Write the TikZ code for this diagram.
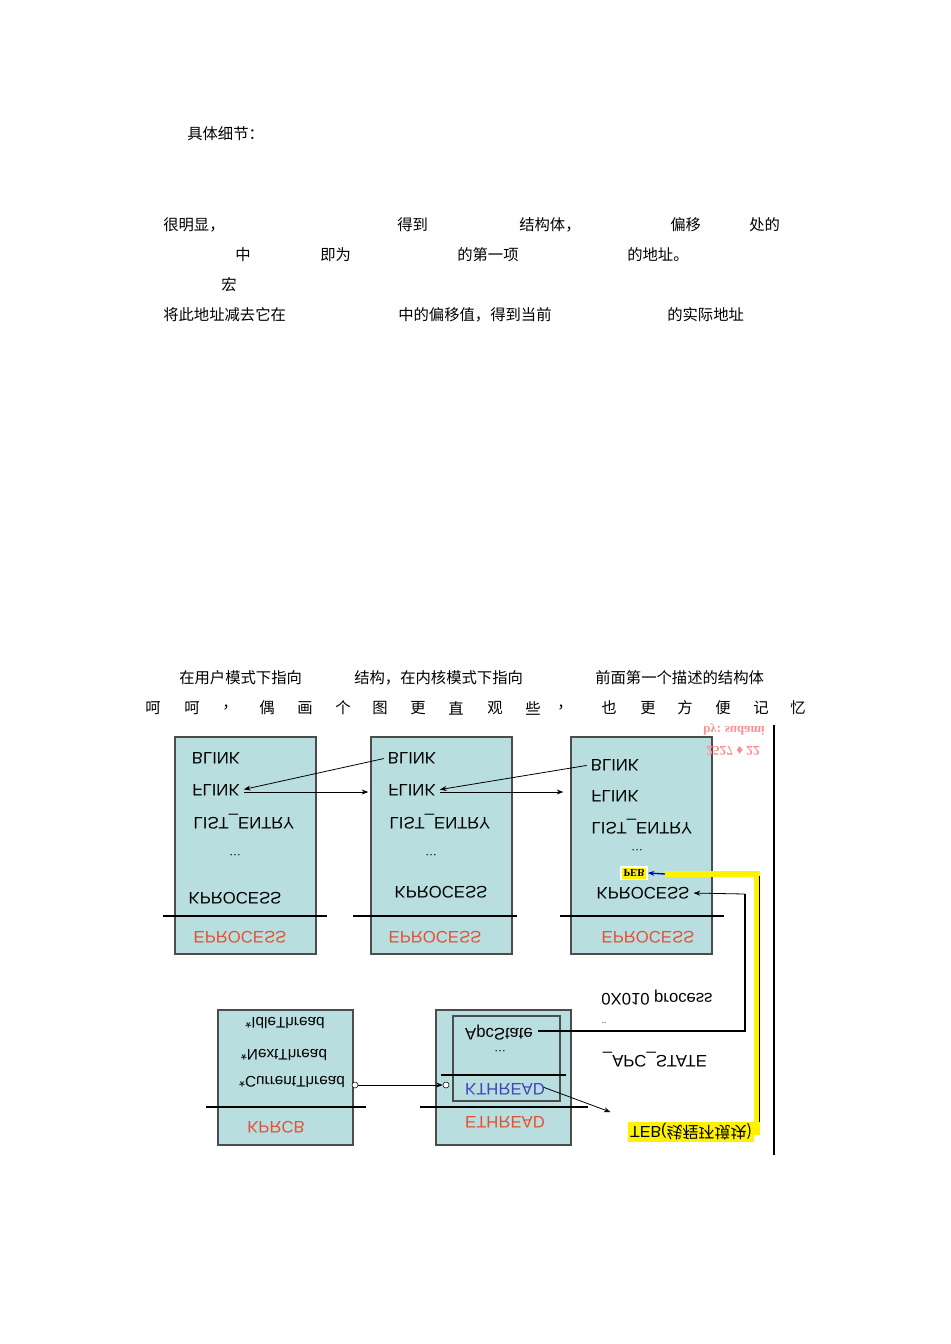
\documentclass[tikz,border=0pt]{standalone}
\usepackage{fontspec}
\setmainfont{Liberation Sans}
\newfontfamily\cjk{Noto Sans CJK SC}
\newfontfamily\serifb{Liberation Serif}
\usetikzlibrary{arrows.meta}
\definecolor{boxfill}{RGB}{184,222,224}
\definecolor{redtxt}{RGB}{230,80,50}
\definecolor{bluetxt}{RGB}{60,70,190}
\newcommand{\flp}[1]{\scalebox{1}[-1]{#1}}
\tikzset{
 pt/.style={inner sep=0pt,font=\cjk\fontsize{11.5}{12}\selectfont,anchor=west},
 box/.style={draw=black!70,fill=boxfill,line width=0.8pt},
 lbl/.style={inner sep=1pt,font=\fontsize{12.5}{13}\selectfont},
 conn/.style={-{Stealth[length=5pt]},line width=0.6pt,shorten >=2pt,shorten <=2pt},
 sep/.style={line width=0.8pt}
}
\begin{document}
\begin{tikzpicture}[x=0.75pt,y=-0.75pt]
\useasboundingbox (0,0) rectangle (950,1344);
% top text
\node[pt] (t0) at (187,134) {具体细节：};
\foreach \x/\s [count=\i] in {163/很明显，,397/得到,519/结构体，,670/偏移,749/处的}
  \node[pt] (a\i) at (\x,225) {\s};
\foreach \x/\s [count=\i] in {235/中,320/即为,457/的第一项,627/的地址。}
  \node[pt] (b\i) at (\x,255) {\s};
\node[pt] (c1) at (221,285) {宏};
\foreach \x/\s [count=\i] in {163/将此地址减去它在,398/{中的偏移值，得到当前},667/的实际地址}
  \node[pt] (d\i) at (\x,315) {\s};
\foreach \x/\s [count=\i] in {179/在用户模式下指向,354/{结构，在内核模式下指向},595/前面第一个描述的结构体}
  \node[pt] (e\i) at (\x,678) {\s};
\foreach \x/\s [count=\i] in {145/呵,184/呵,222/，,259/偶,297/画,335/个,372/图,410/更,448/直,487/观,525/些,557/，,601/也,640/更,677/方,715/便,753/记,790/忆}
  \node[pt] (f\i) at (\x,708) {\s};
% EPROCESS boxes
\foreach \bx/\n in {175/1,371/2,571/3}{
  \draw[box] (\bx,737) rectangle ++(141,217);
}
\draw[sep] (163,916)--(327,916); \draw[sep] (353,916)--(517,916); \draw[sep] (560,916)--(724,916);
\foreach \cx/\n in {230/1,426/2}{
  \node[lbl] (bl\n) at (\cx-14,758) {\flp{BLINK}};
  \node[lbl] (fl\n) at (\cx-14,790) {\flp{FLINK}};
  \node[lbl] (le\n) at (\cx+14,822) {\flp{LIST\_ENTRY}};
  \node[lbl,font=\small] (dt\n) at (\cx+5,855) {\flp{\dots}};
}
\node[lbl] (kp1) at (235,898) {\flp{KPROCESS}};
\node[lbl] (kp2) at (441,892) {\flp{KPROCESS}};
\node[lbl,text=redtxt] (ep1) at (240,937) {\flp{EPROCESS}};
\node[lbl,text=redtxt] (ep2) at (435,937) {\flp{EPROCESS}};
\node[lbl] (bl3) at (615,765) {\flp{BLINK}};
\node[lbl] (fl3) at (615,796) {\flp{FLINK}};
\node[lbl] (le3) at (642,827) {\flp{LIST\_ENTRY}};
\node[lbl,font=\small] (dt3) at (637,850) {\flp{\dots}};
\node[inner sep=2pt,fill=yellow,draw=white,line width=1pt,font=\serifb\bfseries\fontsize{8}{8}\selectfont] (peb) at (634,873) {\flp{PEB}};
\node[lbl] (kp3) at (643,893) {\flp{KPROCESS}};
\node[lbl,text=redtxt] (ep3) at (648,937) {\flp{EPROCESS}};
\node[text=red!45,inner sep=0pt,font=\serifb\bfseries\fontsize{9.5}{10}\selectfont] (wm1) at (734,730) {\flp{by: sudami}};
\node[text=red!45,inner sep=0pt,font=\serifb\bfseries\fontsize{10}{10}\selectfont] (wm2) at (733,751) {\flp{2527 ♦ 22}};
\coordinate (r1) at (371,792);
\coordinate (r2) at (566,792);
% list arrows
\draw[conn] (bl2.west) -- (fl1.east);
\draw[conn] (fl1.east |- r1) -- (r1);
\draw[conn] (bl3.west) -- (fl2.east);
\draw[conn] (fl2.east |- r2) -- (r2);
% right vertical line
\draw[line width=0.8pt] (774,725) -- (774,1155);
% lower boxes
\draw[box] (218,1010) rectangle (353,1145);
\draw[sep] (206,1107)--(366,1107);
\node[lbl,font=\fontsize{11.5}{12}\selectfont] (idle) at (285,1023) {\flp{*IdleThread}};
\node[lbl,font=\fontsize{11.5}{12}\selectfont] (next) at (284,1055) {\flp{*NextThread}};
\node[lbl,font=\fontsize{11.5}{12}\selectfont] (cur) at (292,1082) {\flp{*CurrentThread}};
\node[lbl,text=redtxt] (kprcb) at (276,1127) {\flp{KPRCB}};
\draw[box] (436,1010) rectangle (571,1145);
\draw[line width=0.8pt,black!70] (453,1016) rectangle (560,1101);
\draw[sep] (441,1075)--(566,1075);
\draw[sep] (420,1107)--(588,1107);
\node[lbl] (apc) at (499,1033) {\flp{ApcState}};
\node[lbl,font=\small] (dt4) at (500,1051) {\flp{\dots}};
\node[lbl,text=bluetxt] (kth) at (505,1089) {\flp{KTHREAD}};
\node[lbl,text=redtxt] (eth) at (505,1122) {\flp{ETHREAD}};
\node[circle,draw,fill=white,inner sep=1.6pt] (c1) at (355,1085) {};
\node[circle,draw,fill=white,inner sep=1.6pt] (c2) at (446,1085) {};
\draw[conn,shorten >=0pt,shorten <=0pt] (c1) -- (c2);
% right texts
\node[lbl] (off) at (657,998) {\flp{0X010 process}};
\node[lbl,font=\fontsize{6}{6}\selectfont] (dd) at (604,1023) {..};
\node[lbl] (apcs) at (655,1060) {\flp{\_APC\_STATE}};
% connectors to right
\coordinate (cn) at (745,1031);
\draw[yellow,line width=4pt] (750,1132) -- (757,1132) -- (757,874) -- (665,874);
\draw[black,line width=0.6pt] (759,1122) -- (759,876);
\node[inner sep=1.5pt,fill=yellow,font=\fontsize{12}{13}\selectfont] (teb) at (691,1132) {\flp{TEB(\cjk 线程环境块)}};
\draw[conn] ([xshift=-4pt,yshift=2pt]kth.east) -- (613,1113);
\draw[line width=0.8pt] ([xshift=3pt]apc.east |- cn) -- (cn) -- (745,894);
\draw[conn,shorten <=0pt] (745,894) -- (kp3.east);
\draw[conn,blue!70!black,line width=1pt,shorten <=0pt,shorten >=0pt] (665,874) -- (peb.east);
\end{tikzpicture}
\end{document}
